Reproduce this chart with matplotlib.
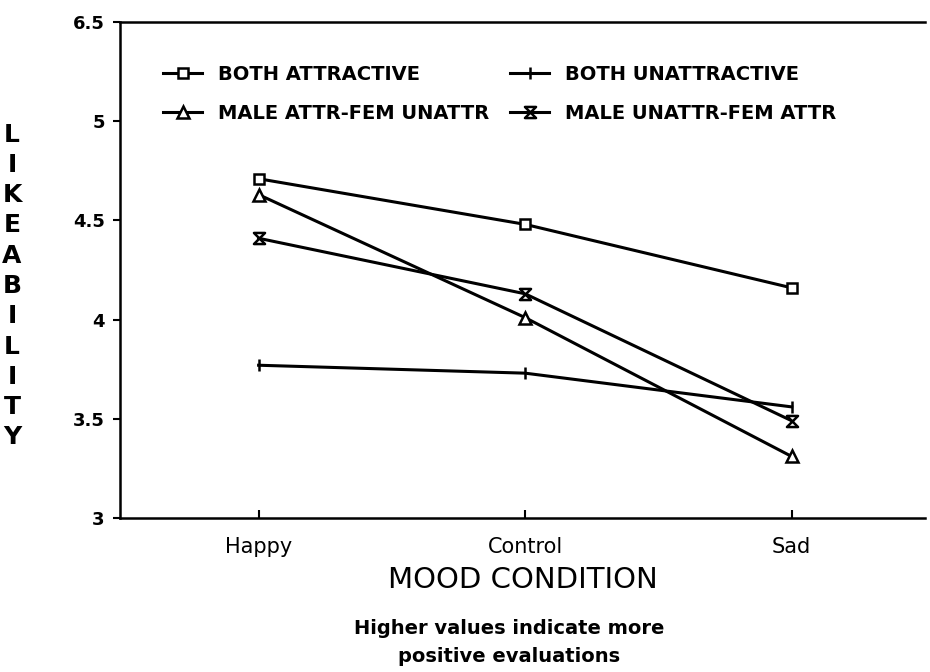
import matplotlib.pyplot as plt
import numpy as np
from matplotlib.path import Path

# Datos
condiciones = ["Happy", "Control", "Sad"]
ambos_atractivos = [4.71, 4.48, 4.16]
ambos_no_atractivos = [3.77, 3.73, 3.56]
hombre_atr_mujer_no = [4.63, 4.01, 3.31]
hombre_no_mujer_atr = [4.41, 4.13, 3.49]

etiquetas_y = ["3", "3.5", "4", "4.5", "5", "6.5"]
valores_y = [3, 3.5, 4, 4.5, 5, 5.5]

# Marcador tipo reloj de arena
reloj = Path([(-1, 1), (1, 1), (-1, -1), (1, -1), (-1, 1)],
             [Path.MOVETO, Path.LINETO, Path.LINETO, Path.LINETO, Path.CLOSEPOLY])

plt.rcParams["font.family"] = ["DejaVu Sans"]

fig = plt.figure(figsize=(9.3, 6.72), dpi=100)
ax = fig.add_axes([120 / 930, 1 - 518 / 672, 805 / 930, 496 / 672])

x = np.arange(len(condiciones))
estilo = dict(color="black", linewidth=2.2, markerfacecolor="white",
              markeredgecolor="black", markeredgewidth=1.8)

l_ba, = ax.plot(x, ambos_atractivos, marker="s", markersize=7, label="BOTH ATTRACTIVE", **estilo)
l_bu, = ax.plot(x, ambos_no_atractivos, marker="|", markersize=9, label="BOTH UNATTRACTIVE", **estilo)
l_ma, = ax.plot(x, hombre_atr_mujer_no, marker="^", markersize=8, label="MALE ATTR-FEM UNATTR", **estilo)
l_mu, = ax.plot(x, hombre_no_mujer_atr, marker=reloj, markersize=8, label="MALE UNATTR-FEM ATTR", **estilo)

ax.set_xlim(-0.52, 2.5)
ax.set_ylim(3, 5.5)
ax.set_xticks(x)
ax.set_xticklabels(condiciones, fontsize=15)
ax.set_yticks(valores_y)
ax.set_yticklabels(etiquetas_y, fontsize=13, fontweight="bold")
ax.tick_params(axis="x", direction="in", length=6, width=1.5, pad=14)
ax.tick_params(axis="y", direction="out", length=5, width=1.5, pad=6)

ax.spines["right"].set_visible(False)
for lado in ["left", "top", "bottom"]:
    ax.spines[lado].set_linewidth(1.8)

# orden por columnas para que la fila 1 sea BOTH ATTR / BOTH UNATTR
ax.legend([l_ba, l_ma, l_bu, l_mu],
          [l_ba.get_label(), l_ma.get_label(), l_bu.get_label(), l_mu.get_label()],
          loc="upper left", bbox_to_anchor=(0.032, 0.948), ncol=2, frameon=False,
          prop={"size": 14, "weight": "bold"}, handlelength=2.0, columnspacing=1.1,
          labelspacing=1.0, handletextpad=0.8)

ax.set_xlabel("MOOD CONDITION", fontsize=21, labelpad=6)
fig.text(12 / 930, 1 - 286 / 672, "\n".join("LIKEABILITY"), ha="center", va="center",
         fontsize=18, fontweight="bold", linespacing=1.33)

fig.text(509 / 930, 1 - 628 / 672, "Higher values indicate more", ha="center", va="center",
         fontsize=14, fontweight="bold")
fig.text(509 / 930, 1 - 656 / 672, "positive evaluations", ha="center", va="center",
         fontsize=14, fontweight="bold")

plt.savefig("out.png", dpi=100)
